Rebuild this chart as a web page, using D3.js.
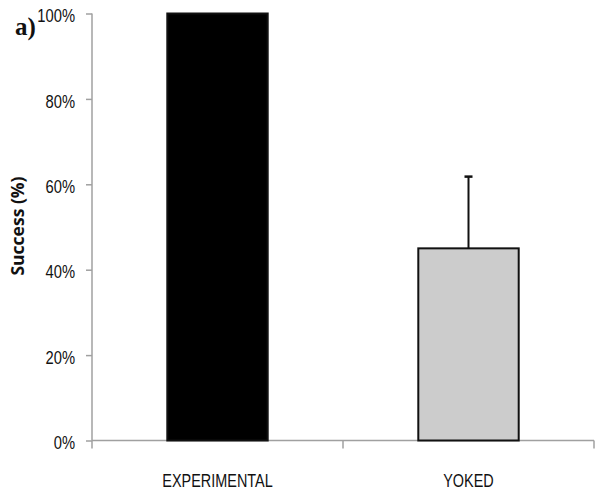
<!DOCTYPE html>
<html><head><meta charset="utf-8">
<script src="https://cdn.jsdelivr.net/npm/d3@7"></script>
<style>html,body{margin:0;padding:0;background:#fff;overflow:hidden}</style>
</head><body>
<svg id="c" width="596" height="492"></svg>
<script>
const categories = ["EXPERIMENTAL", "YOKED"];
const values = [1.00, 0.45];
const errors = [0.0, 0.168];
const yTicks = [0, 0.2, 0.4, 0.6, 0.8, 1.0];
const yTickLabels = ["0%", "20%", "40%", "60%", "80%", "100%"];
const fills = ["#000000", "#cccccc"];

(function () {
const svg = d3.select("#c");
const mLeft = 92, mRight = 594, mTop = 13.5, mBottom = 440.5;
const x = d3.scaleBand().domain(categories).range([mLeft, mRight]).paddingInner(0.6).paddingOuter(0.3);
const y = d3.scaleLinear().domain([0, 1]).range([mBottom, mTop]);
const axisColor = "#a0a0a0";
const sx = 0.82;

// y axis
const yAxis = svg.append("g").attr("transform", `translate(${mLeft},0)`)
  .call(d3.axisLeft(y).tickValues(yTicks).tickFormat((d, i) => yTickLabels[i]).tickSize(6).tickPadding(10));
yAxis.select(".domain").attr("stroke", axisColor).attr("stroke-width", 1.5).attr("d", `M0,${mTop}V${mBottom}`);
yAxis.selectAll(".tick line").attr("stroke", axisColor).attr("stroke-width", 1.5);
yAxis.selectAll(".tick text").attr("fill", "#111")
  .style("font-family", "'Liberation Sans', sans-serif").style("font-size", "18px")
  .attr("x", -17 / sx).attr("dy", "0.45em").attr("transform", `scale(${sx},1)`);

// x axis
const xb = svg.append("g").attr("transform", `translate(0,${mBottom})`);
xb.append("line").attr("x1", mLeft).attr("x2", mRight).attr("stroke", axisColor).attr("stroke-width", 1.5);
const step = x.step();
const sep = [mLeft, mLeft + step, mRight];
xb.selectAll("line.sep").data(sep).join("line").attr("class", "sep")
  .attr("x1", d => d).attr("x2", d => d).attr("y1", 0).attr("y2", 8)
  .attr("stroke", axisColor).attr("stroke-width", 1.5);
xb.selectAll("text").data(categories).join("text")
  .attr("transform", d => `translate(${x(d) + x.bandwidth() / 2},46) scale(0.76,1)`)
  .attr("text-anchor", "middle").attr("fill", "#111")
  .style("font-family", "'Liberation Sans', sans-serif").style("font-size", "19px")
  .text(d => d);

// bars
svg.selectAll("rect.bar").data(categories).join("rect").attr("class", "bar")
  .attr("x", d => x(d)).attr("width", x.bandwidth())
  .attr("y", (d, i) => y(values[i])).attr("height", (d, i) => y(0) - y(values[i]))
  .attr("fill", (d, i) => fills[i]).attr("stroke", "#111").attr("stroke-width", 2);

// error bars
categories.forEach((c, i) => {
  if (errors[i] <= 0) return;
  const cx = x(c) + x.bandwidth() / 2;
  svg.append("line").attr("x1", cx).attr("x2", cx).attr("y1", y(values[i])).attr("y2", y(values[i] + errors[i]))
    .attr("stroke", "#111").attr("stroke-width", 2);
  svg.append("line").attr("x1", cx - 4).attr("x2", cx + 4).attr("y1", y(values[i] + errors[i])).attr("y2", y(values[i] + errors[i]))
    .attr("stroke", "#111").attr("stroke-width", 2.5);
});

// y label
svg.append("text").attr("transform", `translate(24,226) rotate(-90)`)
  .attr("text-anchor", "middle").attr("fill", "#111")
  .style("font-family", "'Open Sans', sans-serif").style("font-weight", "bold").style("font-size", "17.5px")
  .text("Success (%)");

// panel label
svg.append("text").attr("x", 15).attr("y", 35)
  .style("font-family", "'Liberation Serif', 'DejaVu Serif', serif").style("font-weight", "bold").style("font-size", "25px")
  .attr("fill", "#111").text("a)");
})();
</script>
</body></html>
